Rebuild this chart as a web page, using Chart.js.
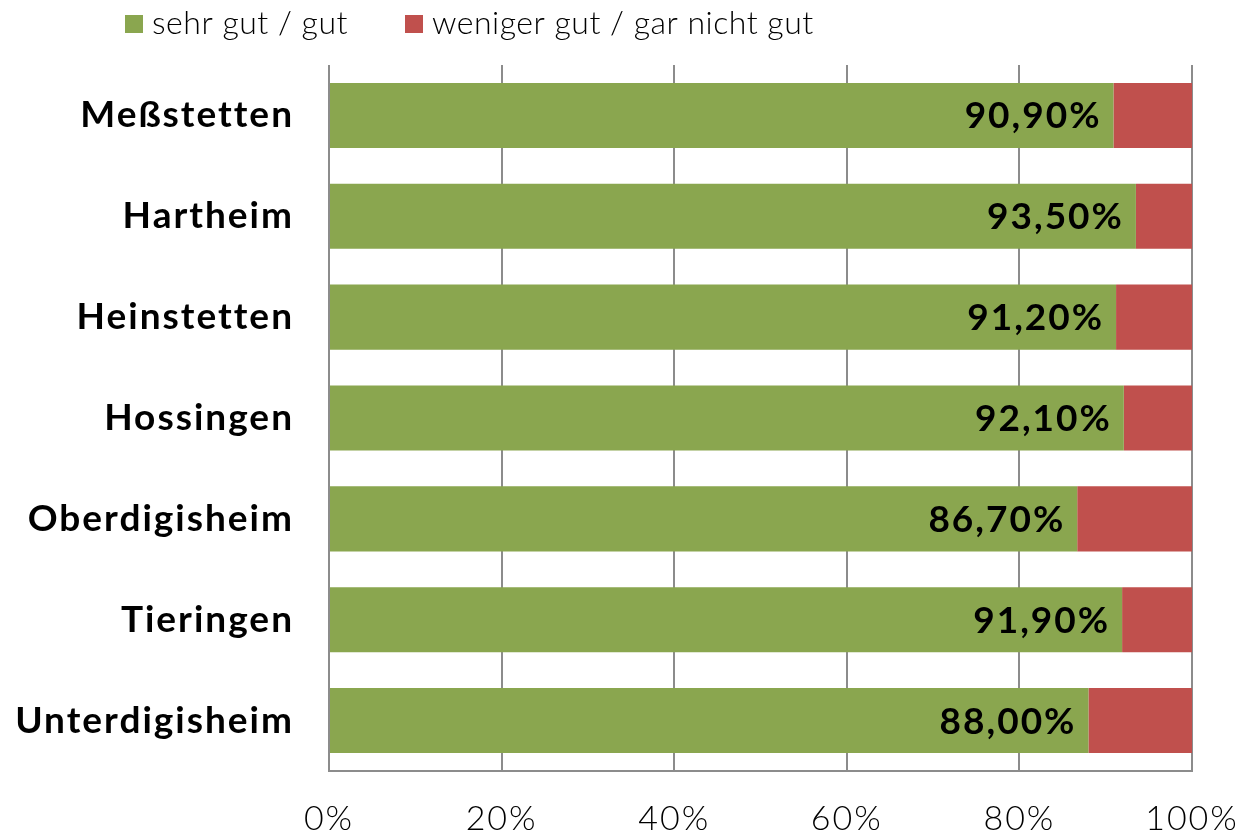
<!DOCTYPE html>
<html>
<head>
<meta charset="utf-8">
<script src="https://cdn.jsdelivr.net/npm/chart.js@4"></script>
<style>
  html, body { margin: 0; padding: 0; background: #fff; }
  #wrap { width: 1250px; height: 837px; }
</style>
</head>
<body>
<div id="wrap"><canvas id="chart" width="1250" height="837"></canvas></div>
<script>
// Data
const categories = ['Meßstetten', 'Hartheim', 'Heinstetten', 'Hossingen', 'Oberdigisheim', 'Tieringen', 'Unterdigisheim'];
const goodValues = [90.9, 93.5, 91.2, 92.1, 86.7, 91.9, 88.0];
const badValues = [9.1, 6.5, 8.8, 7.9, 13.3, 8.1, 12.0];
const seriesNames = ['sehr gut / gut', 'weniger gut / gar nicht gut'];
const xTicks = [0, 20, 40, 60, 80, 100];

const colors = {
    green: '#8aa64f',
    red: '#c0504d',
    grid: '#8c8c8c'
};

const fontFamily = "'Lato', 'DejaVu Sans', sans-serif";

// wider letter spacing, closer to the geometric font of the original
const spacing = {
    id: 'spacing',
    beforeDraw(chart) {
        chart.ctx.letterSpacing = '2px';
    }
};

// value labels inside the green bars
const valueLabels = {
    id: 'valueLabels',
    afterDatasetsDraw(chart) {
        const ctx = chart.ctx;
        const meta = chart.getDatasetMeta(0);
        ctx.save();
        ctx.letterSpacing = '2px';
        ctx.font = 'bold 37px ' + fontFamily;
        ctx.fillStyle = '#000';
        ctx.textAlign = 'right';
        ctx.textBaseline = 'middle';
        meta.data.forEach(function(bar, i) {
            const txt = goodValues[i].toFixed(2).replace('.', ',') + '%';
            ctx.fillText(txt, bar.x - 12, bar.y + 1);
        });
        ctx.restore();
    }
};

// legend drawn in the top strip, left aligned like the original
const topLegend = {
    id: 'topLegend',
    afterDraw(chart) {
        const ctx = chart.ctx;
        const items = [
            { text: seriesNames[0], color: colors.green, x: 125 },
            { text: seriesNames[1], color: colors.red, x: 405 }
        ];
        ctx.save();
        ctx.letterSpacing = '0.5px';
        ctx.font = '300 32px ' + fontFamily;
        ctx.textAlign = 'left';
        ctx.textBaseline = 'middle';
        items.forEach(function(item) {
            ctx.fillStyle = item.color;
            ctx.fillRect(item.x, 15, 18, 18);
            ctx.fillStyle = '#000';
            ctx.fillText(item.text, item.x + 27, 24);
        });
        ctx.restore();
    }
};

new Chart(document.getElementById('chart').getContext('2d'), {
    type: 'bar',
    data: {
        labels: categories,
        datasets: [{
            label: seriesNames[0],
            data: goodValues,
            backgroundColor: colors.green,
            borderWidth: 0,
            barPercentage: 1,
            categoryPercentage: 0.645
        }, {
            label: seriesNames[1],
            data: badValues,
            backgroundColor: colors.red,
            borderWidth: 0,
            barPercentage: 1,
            categoryPercentage: 0.645
        }]
    },
    options: {
        indexAxis: 'y',
        responsive: false,
        animation: false,
        layout: {
            padding: { left: 0, right: 58, top: 65, bottom: 0 }
        },
        plugins: {
            legend: { display: false },
            tooltip: { enabled: false }
        },
        scales: {
            x: {
                stacked: true,
                min: 0,
                max: 100,
                afterBuildTicks: function(scale) {
                    scale.ticks = xTicks.map(function(v) { return { value: v }; });
                },
                afterFit: function(scale) {
                    scale.height = 66;
                    scale.paddingRight = 0;
                    scale.paddingLeft = 0;
                },
                border: { display: true, color: colors.grid, width: 2 },
                grid: {
                    color: colors.grid,
                    lineWidth: 2,
                    drawTicks: false
                },
                ticks: {
                    padding: 28,
                    color: '#000',
                    maxRotation: 0,
                    font: { family: fontFamily, size: 34, weight: 300 },
                    callback: function(value) { return value + '%'; }
                }
            },
            y: {
                stacked: true,
                afterFit: function(scale) {
                    scale.width = 329;
                    scale.paddingTop = 0;
                    scale.paddingBottom = 0;
                },
                border: { display: false },
                grid: { display: false, drawTicks: false },
                ticks: {
                    padding: 35,
                    color: '#000',
                    font: { family: fontFamily, size: 37, weight: 'bold', lineHeight: 1.1 }
                }
            }
        }
    },
    plugins: [spacing, valueLabels, topLegend]
});
</script>
</body>
</html>
